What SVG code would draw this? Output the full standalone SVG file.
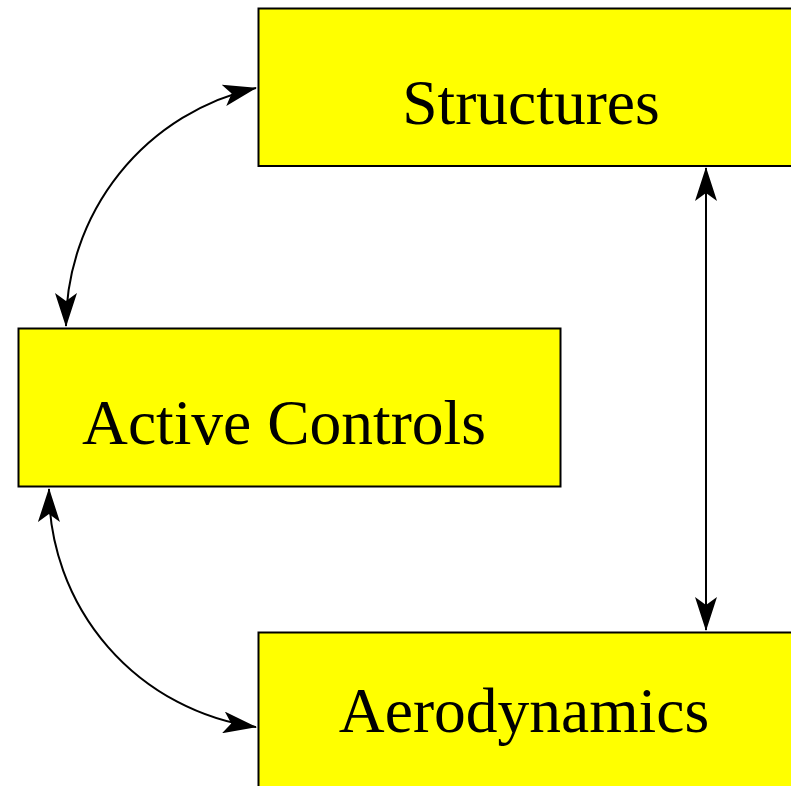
<svg xmlns="http://www.w3.org/2000/svg" width="791" height="786" viewBox="0 0 791 786">
<style>
.box{fill:#ffff00;stroke:#000;stroke-width:2}
.lbl{font-family:"Liberation Serif","Times New Roman",serif;font-size:63.5px;fill:#000;text-anchor:middle}
.con{fill:none;stroke:#000;stroke-width:2}
</style>
<defs>
<marker id="ahb" viewBox="0 0 34 22" refX="33" refY="11" markerWidth="34" markerHeight="22" markerUnits="userSpaceOnUse" orient="auto-start-reverse">
<path d="M0,0 L34,11 L0,22 L8,11 Z" fill="#000"/>
</marker>
</defs>
<rect width="791" height="786" fill="#fff"/>
<g id="structures">
<rect class="box" x="258.5" y="8.5" width="560" height="157.5"/>
<text class="lbl" x="531" y="124">Structures</text>
</g>
<g id="active-controls">
<rect class="box" x="18.5" y="328.5" width="542" height="158"/>
<text class="lbl" x="284" y="444">Active Controls</text>
</g>
<g id="aerodynamics">
<rect class="box" x="258.5" y="632.5" width="560" height="180"/>
<text class="lbl" x="524" y="732">Aerodynamics</text>
</g>
<g id="connectors">
<path class="con" d="M66,326 A244,244 0 0 1 256,88" marker-start="url(#ahb)" marker-end="url(#ahb)"/>
<path class="con" d="M49,489 A240,240 0 0 0 256,727" marker-start="url(#ahb)" marker-end="url(#ahb)"/>
<path class="con" d="M706,168 L706,630" marker-start="url(#ahb)" marker-end="url(#ahb)"/>
</g>
</svg>
